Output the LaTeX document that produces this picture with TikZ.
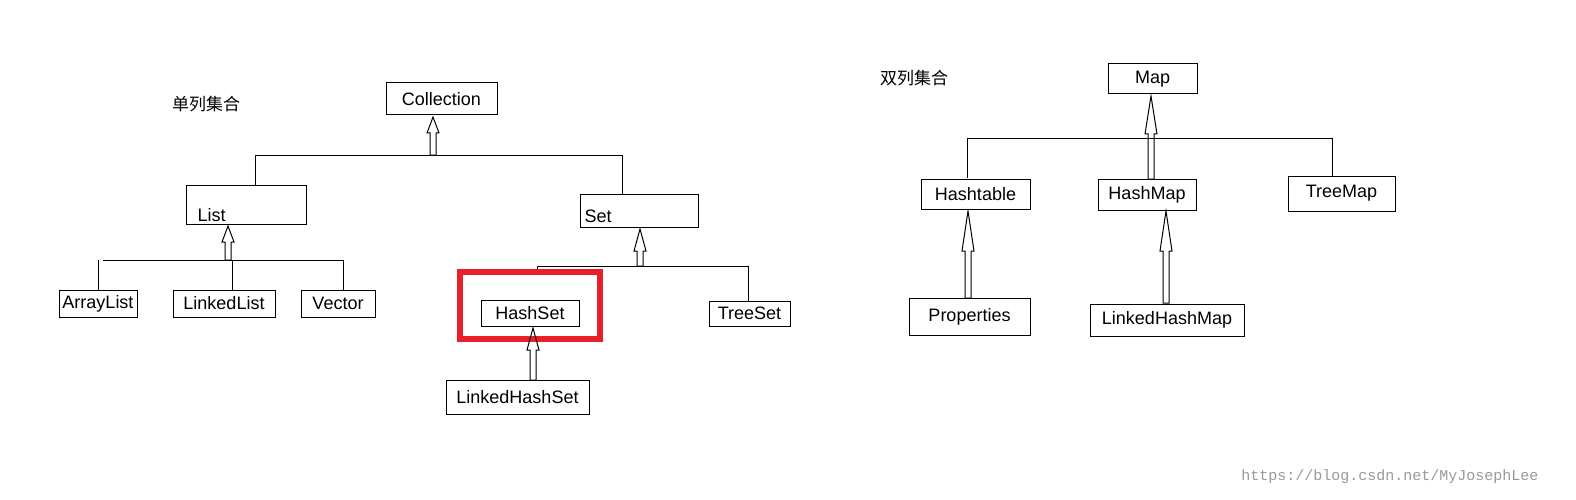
\documentclass[tikz,border=0pt]{standalone}
\usepackage{fontspec}
\setmainfont{Liberation Sans}
\newfontfamily\cjk{Noto Sans CJK SC}
\newfontfamily\mono{Liberation Mono}
\definecolor{redbox}{HTML}{E8202A}
\begin{document}
\begin{tikzpicture}[x=1pt,y=-1pt,
  box/.style={draw,line width=1pt,inner sep=0pt,font=\fontsize{18}{20}\selectfont},
  ln/.style={line width=1pt}]
\useasboundingbox (0,0) rectangle (1576,500);
\newcommand\uparr[4]{\draw[line width=1pt] ({#1-3},{#2}) -- ({#1-3},{#3+#4}) -- ({#1-6},{#3+#4}) -- ({#1},{#3}) -- ({#1+6},{#3+#4}) -- ({#1+3},{#3+#4}) -- ({#1+3},{#2}) -- cycle;}
\newcommand\bx[6]{\node[box,minimum width=#4,minimum height=#5] (#1) at (#2,#3) {#6};}
% left tree
\node[font=\cjk\fontsize{17}{20}\selectfont] (t1) at (206,104) {单列集合};
\bx{coll}{441.5}{99}{111pt}{32pt}{Collection}
\bx{list}{246}{204.5}{120pt}{39pt}{}
\node[font=\fontsize{18}{20}\selectfont,anchor=base west] (listt) at (194,221) {List};
\bx{set}{639}{210.5}{118pt}{33pt}{}
\node[font=\fontsize{18}{20}\selectfont,anchor=base west] (sett) at (581,222) {Set};
\coordinate (b1l) at (255,155); \coordinate (b1r) at (622,155);
\draw[ln] (b1l|-list.north) -- (b1l) -- (b1r) -- (b1r|-set.north);
\uparr{433}{155}{117}{16}
\bx{al}{98}{303.5}{78pt}{27pt}{ArrayList}
\bx{ll}{224}{303.5}{102pt}{27pt}{LinkedList}
\bx{vec}{338}{303.5}{74pt}{27pt}{Vector}
\coordinate (b2l) at (103,260); \coordinate (b2r) at (343,260);
\draw[ln] (98,260) -- (98,290);
\draw[ln] (b2l) -- (b2r) -- (b2r|-vec.north);
\draw[ln] (232,260) -- (232,290);
\uparr{228}{260}{226}{16}
\draw[redbox,line width=6pt] (460,272) rectangle (600,339);
\bx{hs}{530}{313}{98pt}{26pt}{HashSet}
\bx{ts}{749.5}{313.5}{81pt}{25pt}{TreeSet}
\bx{lhs}{517.5}{397}{143pt}{34pt}{LinkedHashSet}
\draw[ln] (537,269) -- (537,266) -- (748,266) -- (748,301);
\uparr{640}{266}{229}{22}
\uparr{533}{380}{328}{22}
% right tree
\node[font=\cjk\fontsize{17}{20}\selectfont] (t2) at (914,78) {双列集合};
\bx{map}{1152.5}{79}{89pt}{30pt}{Map}
\bx{ht}{975.5}{194}{109pt}{30pt}{Hashtable}
\bx{hm}{1147}{194.5}{98pt}{31pt}{HashMap}
\bx{tm}{1341.5}{193.5}{107pt}{35pt}{TreeMap}
\bx{pr}{969.5}{316.5}{121pt}{37pt}{Properties}
\bx{lhm}{1167}{320}{154pt}{32pt}{LinkedHashMap}
\draw[ln] (967,178) -- (967,139) -- (1332,139) -- (1332,176);
\uparr{1151}{179}{96}{38}
\uparr{968}{298}{211}{40}
\uparr{1166}{303}{211}{40}
\node[font=\mono\fontsize{15}{18}\selectfont,text=black!40,anchor=east] (wm) at (1542,477) {https://blog.csdn.net/MyJosephLee};
\end{tikzpicture}
\end{document}
